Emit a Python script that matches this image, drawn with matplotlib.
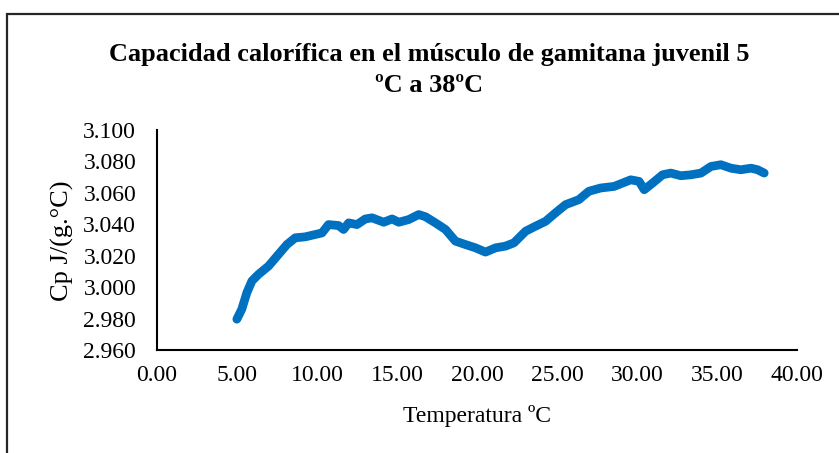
import matplotlib
matplotlib.use("Agg")
import matplotlib.pyplot as plt
from matplotlib.patches import Rectangle

temperature = [4.99, 5.30, 5.62, 5.93, 6.34, 6.97, 7.59, 8.12, 8.64, 9.26, 9.89,
               10.31, 10.72, 11.35, 11.66, 11.98, 12.50, 13.02, 13.44, 14.17, 14.69,
               15.11, 15.73, 16.36, 16.78, 17.40, 18.03, 18.65, 19.28, 19.91, 20.53,
               21.16, 21.78, 22.31, 23.04, 23.66, 24.29, 24.91, 25.54, 26.37, 26.99,
               27.73, 28.57, 29.61, 30.13, 30.45, 30.97, 31.60, 32.11, 32.74, 33.37,
               34.00, 34.62, 35.24, 35.87, 36.49, 37.12, 37.54, 37.95]
cp = [2.9796, 2.9860, 2.9966, 3.0039, 3.0081, 3.0134, 3.0208, 3.0271, 3.0314, 3.0320, 3.0335,
      3.0345, 3.0398, 3.0392, 3.0367, 3.0409, 3.0398, 3.0434, 3.0441, 3.0413, 3.0434,
      3.0413, 3.0430, 3.0462, 3.0448, 3.0409, 3.0367, 3.0293, 3.0271, 3.0250, 3.0223,
      3.0250, 3.0261, 3.0282, 3.0356, 3.0388, 3.0419, 3.0473, 3.0525, 3.0557, 3.0610,
      3.0631, 3.0641, 3.0683, 3.0673, 3.0620, 3.0662, 3.0715, 3.0726, 3.0709, 3.0715,
      3.0726, 3.0768, 3.0779, 3.0757, 3.0747, 3.0757, 3.0747, 3.0726]

x_ticks = [0, 5, 10, 15, 20, 25, 30, 35, 40]
y_ticks = [2.960, 2.980, 3.000, 3.020, 3.040, 3.060, 3.080, 3.100]

title_lines = ['Capacidad calorífica en el músculo de gamitana juvenil 5', 'ºC a 38ºC']

plt.rcParams['font.family'] = ['Liberation Serif', 'DejaVu Serif']

W, H = 839, 453
fig = plt.figure(figsize=(W / 100, H / 100), dpi=100)
ax = fig.add_axes([157 / W, 1 - 350 / H, (797 - 157) / W, (350 - 130) / H])

ax.plot(temperature, cp, color='#0070C0', lw=6.3, solid_capstyle='round',
        solid_joinstyle='round')

ax.set_xlim(0, 40)
ax.set_ylim(2.960, 3.100)
ax.set_xticks(x_ticks)
ax.set_yticks(y_ticks)
ax.set_xticklabels([f"{v:.2f}" for v in x_ticks])
ax.set_yticklabels([f"{v:.3f}" for v in y_ticks])
ax.tick_params(axis='both', length=0, labelsize=17, colors='#000000')
ax.tick_params(axis='y', pad=15)
ax.tick_params(axis='x', pad=11)
for s in ['top', 'right']:
    ax.spines[s].set_visible(False)
for s in ['left', 'bottom']:
    ax.spines[s].set_linewidth(1.5)
    ax.spines[s].set_color('#000000')

fig.text(62 / W, 1 - 241 / H, 'Cp J/(g.°C)', rotation=90, ha='center', va='center',
         fontsize=19)
fig.text(477 / W, 1 - 416 / H, 'Temperatura ºC', ha='center', va='center', fontsize=17)
fig.text(429 / W, 1 - 60.5 / H, title_lines[0], ha='center', va='baseline',
         fontsize=18.9, fontweight='bold')
fig.text(429 / W, 1 - 92 / H, title_lines[1], ha='center', va='baseline',
         fontsize=18.9, fontweight='bold')

fig.patches.append(Rectangle((7 / W, -0.1), 1.2, 1 - 14 / H + 0.1,
                             transform=fig.transFigure, fill=False,
                             edgecolor='#262626', lw=1.6))

fig.savefig('out.png', dpi=100)
